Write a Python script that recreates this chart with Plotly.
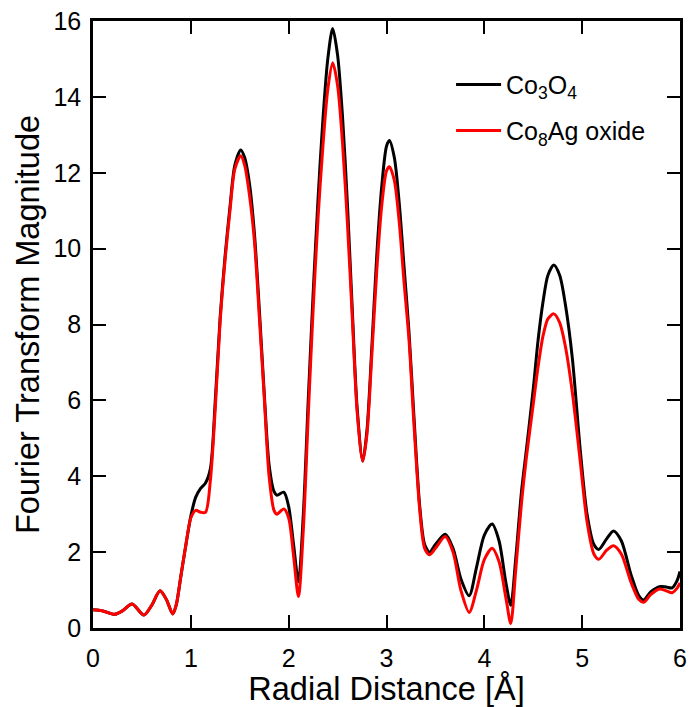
import plotly.graph_objects as go

r = [0.0, 0.1, 0.22, 0.3, 0.4, 0.52, 0.6, 0.685, 0.75, 0.815, 0.85, 0.9, 0.95, 1.0, 1.05, 1.1, 1.15,
     1.2, 1.25, 1.3, 1.35, 1.4, 1.45, 1.51, 1.55, 1.6, 1.65, 1.7, 1.75, 1.8, 1.85, 1.88, 1.95, 2.0,
     2.05, 2.1, 2.15, 2.2, 2.25, 2.3, 2.35, 2.4, 2.45, 2.5, 2.55, 2.6, 2.65, 2.7, 2.757, 2.8, 2.85,
     2.9, 2.95, 3.0, 3.03, 3.08, 3.13, 3.18, 3.23, 3.28, 3.34, 3.39, 3.44, 3.5, 3.6, 3.68, 3.76, 3.845,
     3.92, 4.0, 4.08, 4.15, 4.22, 4.27, 4.32, 4.38, 4.43, 4.5, 4.55, 4.6, 4.65, 4.71, 4.77, 4.83, 4.9,
     4.98, 5.05, 5.12, 5.17, 5.25, 5.32, 5.4, 5.5, 5.58, 5.63, 5.7, 5.79, 5.86, 5.92, 5.97, 6.0]

co3o4 = [0.48, 0.45, 0.36, 0.45, 0.63, 0.34, 0.6, 0.98, 0.75, 0.37, 0.6, 1.4, 2.2, 2.95, 3.45, 3.68, 3.82,
         4.2, 6.0, 8.2, 9.8, 11.1, 12.2, 12.6, 12.4, 11.7, 10.4, 8.4, 6.2, 4.3, 3.6, 3.5, 3.58, 3.2,
         2.2, 1.22, 3.0, 6.0, 8.8, 11.3, 13.4, 15.0, 15.8, 15.1, 13.5, 11.2, 8.4, 5.8, 4.4, 5.2, 7.4,
         9.8, 11.6, 12.7, 12.85, 12.4, 11.2, 9.5, 7.8, 5.6, 3.2, 2.2, 2.0, 2.2, 2.47, 2.1, 1.3, 0.85,
         1.6, 2.45, 2.74, 2.3, 1.2, 0.6, 1.8, 3.6, 4.7, 6.3, 7.6, 8.6, 9.3, 9.57, 9.3, 8.5, 7.1,
         4.7, 3.0, 2.2, 2.07, 2.35, 2.56, 2.3, 1.4, 0.85, 0.74, 0.95, 1.09, 1.08, 1.06, 1.25, 1.49]

co8ag = [0.48, 0.45, 0.36, 0.45, 0.63, 0.34, 0.6, 0.98, 0.75, 0.37, 0.6, 1.4, 2.2, 2.9, 3.1, 3.05, 3.05,
         3.9, 5.8, 8.1, 9.7, 11.0, 12.1, 12.45, 12.2, 11.4, 10.2, 8.2, 6.1, 4.0, 3.1, 3.0, 3.14, 2.9,
         1.9, 0.83, 2.6, 5.6, 8.4, 10.8, 12.7, 14.2, 14.9, 14.3, 12.8, 10.7, 8.2, 5.7, 4.4, 5.1, 7.2,
         9.4, 11.1, 12.05, 12.16, 11.8, 10.7, 9.1, 7.6, 5.4, 3.1, 2.1, 1.93, 2.1, 2.41, 2.0, 1.0, 0.41,
         1.0, 1.8, 2.1, 1.75, 0.8, 0.12, 1.5, 3.3, 4.5, 5.9, 6.9, 7.7, 8.15, 8.28, 8.05, 7.4, 6.2,
         4.4, 2.8, 1.95, 1.81, 2.05, 2.17, 1.95, 1.2, 0.75, 0.68, 0.88, 1.03, 0.98, 0.93, 1.05, 1.19]

x_ticks = [0, 1, 2, 3, 4, 5, 6]
y_ticks = [0, 2, 4, 6, 8, 10, 12, 14, 16]

FONT = "Liberation Sans, Arial, sans-serif"

fig = go.Figure()
fig.add_trace(go.Scatter(x=r, y=co3o4, mode="lines", name="Co<sub>3</sub>O<sub>4</sub>",
                         legend="legend",
                         line=dict(color="black", width=3, shape="spline", smoothing=0.8)))
fig.add_trace(go.Scatter(x=r, y=co8ag, mode="lines", name="Co<sub>8</sub>Ag oxide",
                         legend="legend2",
                         line=dict(color="#ff0000", width=3, shape="spline", smoothing=0.8)))

axis_common = dict(showline=True, linecolor="black", linewidth=2.5, mirror="ticks",
                   ticks="inside", ticklen=13, tickwidth=2, tickcolor="black",
                   showgrid=False, zeroline=False, automargin=False,
                   tickfont=dict(family=FONT, size=25, color="black"))

legend_common = dict(xanchor="left", yanchor="middle", bgcolor="rgba(0,0,0,0)",
                     font=dict(size=25, family=FONT, color="black"), itemwidth=45)

fig.update_layout(
    width=690, height=707,
    margin=dict(l=93, r=10, t=21, b=79),
    plot_bgcolor="white", paper_bgcolor="white",
    font=dict(family=FONT, color="black"),
    xaxis=dict(range=[0, 6], tickvals=x_ticks, ticklabelstandoff=6,
               title=dict(text="Radial Distance [Å]", font=dict(size=32.5), standoff=3),
               **axis_common),
    yaxis=dict(range=[0, 16], tickvals=y_ticks, ticklabelstandoff=4,
               title=dict(text="Fourier Transform Magnitude", font=dict(size=32.5), standoff=5),
               **axis_common),
    legend=dict(x=0.61, y=0.895, **legend_common),
    legend2=dict(x=0.61, y=0.819, **legend_common),
    showlegend=True,
)

fig.write_html("out.html")
